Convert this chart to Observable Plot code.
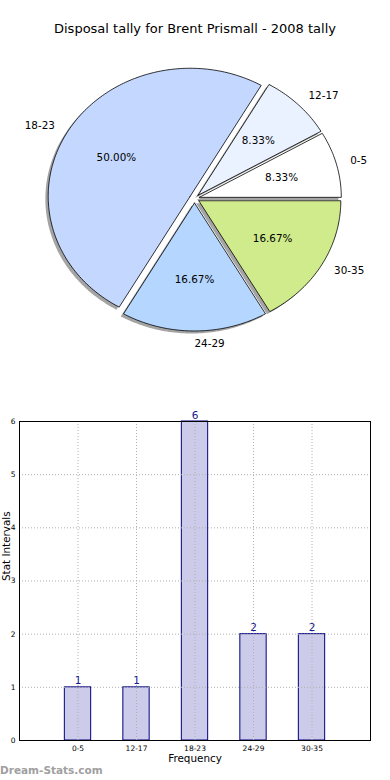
<!DOCTYPE html>
<html>
<head>
<meta charset="utf-8">
<script src="https://cdn.jsdelivr.net/npm/d3@7"></script>
<script src="https://cdn.jsdelivr.net/npm/@observablehq/plot@0.6"></script>
<style>
  html, body { margin: 0; padding: 0; background: #fff; }
  #wrap { position: relative; width: 390px; height: 780px; overflow: hidden; font-family: "DejaVu Sans", sans-serif; }
  #title { position: absolute; top: 21px; left: 0; width: 390px; text-align: center; font-size: 13px; color: #000; }
  #pie { position: absolute; top: 40px; left: 0; }
  #bar { position: absolute; top: 400px; left: 0; }
  #wm { position: absolute; left: 0; top: 764px; font-size: 10.5px; font-weight: bold; color: #a0a0a0; font-family: "DejaVu Sans", sans-serif; }
</style>
</head>
<body>
<div id="wrap">
  <div id="title">Disposal tally for Brent Prismall - 2008 tally</div>
  <div id="pie"></div>
  <div id="bar"></div>
  <div id="wm">Dream-Stats.com</div>
</div>
<script>
// ---- data ----
const categories = ["0-5", "12-17", "18-23", "24-29", "30-35"];
const counts = [1, 1, 6, 2, 2];
const pieColors = ["#ffffff", "#eaf2ff", "#c4d8ff", "#b4d6ff", "#d0eb8c"];
const yTicks = [0, 1, 2, 3, 4, 5, 6];
const explode = 0.035;

// ---- pie geometry (matplotlib style: start at 0 deg, counter-clockwise) ----
const total = d3.sum(counts);
let acc = 0;
const slices = categories.map((c, i) => {
  const a0 = acc / total * 2 * Math.PI;
  acc += counts[i];
  const a1 = acc / total * 2 * Math.PI;
  const am = (a0 + a1) / 2;
  const ox = explode * Math.cos(am), oy = explode * Math.sin(am);
  const pts = [{x: ox, y: oy}];
  const n = Math.max(8, Math.round((a1 - a0) / (Math.PI / 180)));
  for (let k = 0; k <= n; k++) {
    const a = a0 + (a1 - a0) * k / n;
    pts.push({x: ox + Math.cos(a), y: oy + Math.sin(a)});
  }
  pts.push({x: ox, y: oy});
  return {
    cat: c, color: pieColors[i], pts, am,
    lx: ox + 1.1 * Math.cos(am), ly: oy + 1.1 * Math.sin(am),
    px: ox + 0.6 * Math.cos(am), py: oy + 0.6 * Math.sin(am),
    pct: (counts[i] / total * 100).toFixed(2) + "%"
  };
});

const pieW = 390, pieH = 340;
const cx = 194, cy = 158, rx = 142, ry = 128;
const shadowDx = -0.02, shadowDy = -0.02;

const pieMarks = [];
slices.forEach(s => {
  pieMarks.push(Plot.line(s.pts, {
    x: d => d.x + shadowDx, y: d => d.y + shadowDy,
    fill: "#4a4a4a", fillOpacity: 0.5, stroke: "none", curve: "linear"
  }));
});
slices.forEach(s => {
  pieMarks.push(Plot.line(s.pts, {
    x: "x", y: "y", fill: s.color, stroke: "#000", strokeWidth: 0.8, curve: "linear"
  }));
});
const rightSide = slices.filter(d => Math.cos(d.am) > -1e-6);
const leftSide = slices.filter(d => Math.cos(d.am) <= -1e-6);
pieMarks.push(Plot.text(rightSide, {x: "lx", y: "ly", text: "cat", textAnchor: "start", fontSize: 10.4, fill: "#000"}));
pieMarks.push(Plot.text(leftSide, {x: "lx", y: "ly", text: "cat", textAnchor: "end", fontSize: 10.4, fill: "#000"}));
pieMarks.push(Plot.text(slices, {
  x: "px", y: "py", text: "pct", textAnchor: "middle", fontSize: 10.4, fill: "#000"
}));

const pie = Plot.plot({
  width: pieW, height: pieH,
  marginTop: 0, marginBottom: 0, marginLeft: 0, marginRight: 0,
  x: {domain: [-cx / rx, (pieW - cx) / rx], axis: null},
  y: {domain: [-(pieH - cy) / ry, cy / ry], axis: null},
  style: {fontFamily: "DejaVu Sans, sans-serif", background: "transparent"},
  marks: pieMarks
});
document.getElementById("pie").appendChild(pie);

// ---- bar chart ----
const rows = categories.map((c, i) => ({cat: c, i, v: counts[i]}));
const barW = 0.45;

const bar = Plot.plot({
  width: 390, height: 380,
  marginTop: 21, marginBottom: 40, marginLeft: 19, marginRight: 20,
  x: {domain: [-1, 5], ticks: rows.map(r => r.i), tickFormat: i => categories[i], tickSize: 0, tickPadding: 5, label: null},
  y: {domain: [0, 6], ticks: yTicks, tickFormat: d => String(d), tickSize: 0, tickPadding: 4, label: null},
  style: {fontFamily: "DejaVu Sans, sans-serif", fontSize: "7.5px", background: "transparent", color: "#000"},
  marks: [
    Plot.rectY(rows, {x1: d => d.i - barW / 2, x2: d => d.i + barW / 2, y1: 0, y2: "v", fill: "#ccccea", stroke: "#000080", strokeWidth: 1}),
    Plot.ruleY(yTicks, {stroke: "#b0b0b0", strokeDasharray: "1,2", strokeWidth: 1}),
    Plot.ruleX(rows, {x: "i", stroke: "#b0b0b0", strokeDasharray: "1,2", strokeWidth: 1}),
    Plot.frame({stroke: "#000", strokeWidth: 1}),
    Plot.text(rows, {x: "i", y: "v", text: d => String(d.v), lineAnchor: "bottom", dy: -3, fill: "#1a1a8c", fontSize: 10.5}),
    Plot.text(["Frequency"], {frameAnchor: "bottom", text: d => d, dy: 21, fontSize: 10.4, fill: "#000"}),
    Plot.text(["Stat Intervals"], {frameAnchor: "left", text: d => d, dx: -13, rotate: -90, fontSize: 10.4, fill: "#000"})
  ]
});
document.getElementById("bar").appendChild(bar);
</script>
</body>
</html>
